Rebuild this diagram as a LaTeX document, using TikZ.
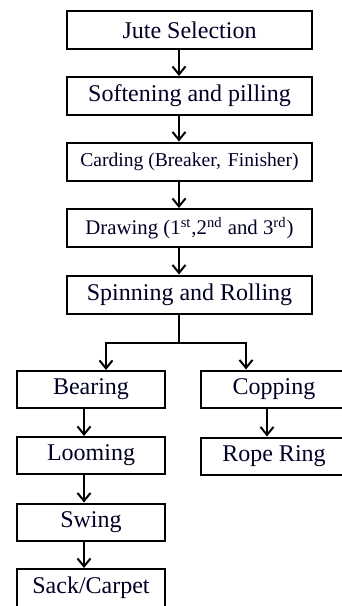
\documentclass[tikz,border=0pt]{standalone}
\usepackage{fontspec}
\setmainfont{Liberation Serif}
\usetikzlibrary{arrows.meta}
\begin{document}
\begin{tikzpicture}[x=0.5pt,y=-0.5pt,
  stage/.style={draw=black,line width=1pt,fill=white,inner sep=0pt,
    font=\fontsize{12}{14}\selectfont,text=black!85!blue},
  wide/.style={stage,minimum width=122.5pt,minimum height=19pt},
  narrow/.style={stage,minimum width=74pt,minimum height=18.5pt},
  flow/.style={line width=1pt,-{Straight Barb[length=4pt,width=6.5pt,line width=1pt]}}]
\useasboundingbox (0,0) rectangle (342,606);
\clip (0,0) rectangle (342,606);
% main line of processing
\node[wide] (sel)  at (189.5,30)   {Jute Selection};
\node[wide] (soft) at (189.5,96)   {Softening and pilling};
\node[wide,font=\fontsize{9.8}{12}\selectfont] (card) at (189.5,161.5) {Carding (Breaker,\hspace{1pt} Finisher)};
\node[wide,font=\fontsize{10.4}{12}\selectfont] (draw) at (189.5,228) {Drawing (1\textsuperscript{st},2\textsuperscript{nd} and 3\textsuperscript{rd})};
\node[wide] (spin) at (189.5,294.5) {Spinning and Rolling};
% left branch
\node[narrow] (bear) at (91,389.5) {Bearing};
\node[narrow] (loom) at (91,455.5) {Looming};
\node[narrow] (swing) at (91,522)  {Swing};
\node[narrow,minimum height=19pt] (sack) at (91,588) {Sack/Carpet};
% right branch
\node[narrow,minimum width=73pt] (copp) at (274,389)   {Copping};
\node[narrow,minimum width=73pt] (rope) at (274,456)   {Rope Ring};
% connectors
\coordinate (split) at (179,343);
\draw[flow] (sel.south -| split)  -- (soft.north -| split);
\draw[flow] (soft.south -| split) -- (card.north -| split);
\draw[flow] (card.south -| split) -- (draw.north -| split);
\draw[flow] (draw.south -| split) -- (spin.north -| split);
\draw[line width=1pt] (spin.south -| split) -- (split);
\coordinate (lj) at (106,343);
\coordinate (rj) at (246,343);
\draw[flow] (split) -- (lj) -- (bear.north -| lj);
\draw[flow] (split) -- (rj) -- (copp.north -| rj);
\coordinate (lc) at (84,0);
\coordinate (rc) at (267,0);
\draw[flow] (bear.south -| lc) -- (loom.north -| lc);
\draw[flow] (loom.south -| lc) -- (swing.north -| lc);
\draw[flow] (swing.south -| lc) -- (sack.north -| lc);
\draw[flow] (copp.south -| rc) -- (rope.north -| rc);
\end{tikzpicture}
\end{document}
